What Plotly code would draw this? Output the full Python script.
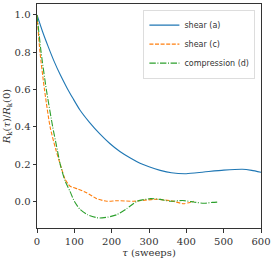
import plotly.graph_objects as go

tau_a = [0, 15, 30, 45, 62, 80, 97, 115, 140, 169, 195, 222, 250, 276, 300, 330, 360, 400, 447, 500, 550, 575, 600]
val_a = [1.0, 0.91, 0.83, 0.755, 0.68, 0.61, 0.55, 0.49, 0.425, 0.36, 0.31, 0.267, 0.232, 0.204, 0.185, 0.166, 0.153, 0.148, 0.157, 0.167, 0.172, 0.166, 0.156]

tau_c = [0, 8, 20, 35, 50, 62, 75, 88, 110, 133, 160, 187, 214, 258, 290, 322, 360, 393, 420]
val_c = [1.0, 0.8, 0.6, 0.4, 0.28, 0.2, 0.12, 0.082, 0.065, 0.046, 0.014, 0.0, 0.003, 0.0, 0.006, 0.011, 0.002, -0.013, 0.0]

tau_d = [0, 11, 25, 42, 52, 62, 75, 88, 100, 115, 135, 160, 168, 190, 214, 240, 268, 304, 330, 357, 390, 420, 447, 470, 487]
val_d = [1.0, 0.8, 0.6, 0.4, 0.3, 0.2, 0.11, 0.055, 0.0, -0.043, -0.072, -0.088, -0.09, -0.085, -0.072, -0.04, 0.0, 0.014, 0.01, 0.0, 0.004, -0.004, -0.011, -0.006, -0.004]

names = ["shear (a)", "shear (c)", "compression (d)"]
colors = ["#1f77b4", "#ff7f0e", "#2ca02c"]
dashes = ["solid", "4px,1.6px", "6.4px,1.6px,1px,1.6px"]

xticks = [0, 100, 200, 300, 400, 500, 600]
yticks = [0.0, 0.2, 0.4, 0.6, 0.8, 1.0]

fig = go.Figure()
for t, v, n, c, d in zip([tau_a, tau_c, tau_d], [val_a, val_c, val_d], names, colors, dashes):
    fig.add_trace(go.Scatter(x=t, y=v, name=n, mode="lines",
                             line=dict(color=c, width=1.1, dash=d, shape="spline", smoothing=0.6)))

axis_common = dict(showgrid=False, zeroline=False, showline=True, linecolor="#333",
                   linewidth=1, mirror=True, ticks="outside", ticklen=3.5, tickwidth=0.8,
                   tickcolor="#333", tickfont=dict(family="DejaVu Serif", size=10, color="#333"))

fig.update_layout(
    width=274, height=262, autosize=False,
    margin=dict(l=37, r=13, t=4, b=34, autoexpand=False),
    paper_bgcolor="white", plot_bgcolor="white",
    xaxis=dict(range=[0, 600], tickvals=xticks, ticktext=[str(x) for x in xticks],
               title=dict(text="<i>τ</i> (sweeps)", font=dict(family="DejaVu Serif", size=10, color="#333"), standoff=2),
               **axis_common),
    yaxis=dict(range=[-0.1435, 1.059], tickvals=yticks, ticktext=[f"{y:.1f}" for y in yticks],
               title=dict(text="<i>R</i><sub>k</sub>(<i>τ</i>)/<i>R</i><sub>k</sub>(0)",
                          font=dict(family="DejaVu Serif", size=10, color="#333"), standoff=2),
               **axis_common),
    legend=dict(x=0.975, y=0.975, xanchor="right", yanchor="top",
                bgcolor="rgba(255,255,255,0.8)", bordercolor="#ddd", borderwidth=1,
                font=dict(family="DejaVu Sans", size=8, color="#333"),
                itemwidth=30, tracegroupgap=0),
    showlegend=True,
)

fig.write_html("out.html", config={"displayModeBar": False},
               post_script="document.body.style.margin='0';document.body.style.overflow='hidden';")
